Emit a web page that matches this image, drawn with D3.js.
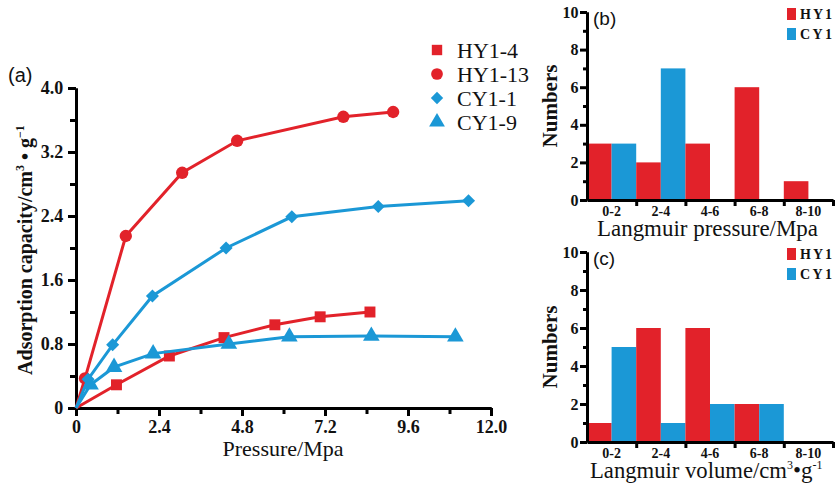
<!DOCTYPE html>
<html>
<head>
<meta charset="utf-8">
<script src="https://cdn.jsdelivr.net/npm/d3@7"></script>
<style>
  body { margin: 0; background: #fff; }
  svg { display: block; }
</style>
</head>
<body>
<div id="chart"></div>
<script>
// Data
// =================================
var hy14 = [[0, 0], [1.17, 0.29], [2.7, 0.65], [4.28, 0.88], [5.75, 1.04], [7.06, 1.14], [8.5, 1.2]];
var hy113 = [[0, 0], [0.26, 0.37], [1.44, 2.15], [3.07, 2.94], [4.66, 3.34], [7.73, 3.64], [9.17, 3.7]];
var cy11 = [[0, 0], [0.35, 0.36], [1.06, 0.79], [2.21, 1.4], [4.34, 2.0], [6.24, 2.39], [8.74, 2.52], [11.35, 2.59]];
var cy19 = [[0, 0], [0.42, 0.29], [1.1, 0.51], [2.23, 0.68], [4.42, 0.8], [6.17, 0.89], [8.54, 0.9], [10.97, 0.89]];

var seriesNames = ["HY1-4", "HY1-13", "CY1-1", "CY1-9"];
var xTicksA = [0, 2.4, 4.8, 7.2, 9.6, 12.0];
var yTicksA = [0, 0.8, 1.6, 2.4, 3.2, 4.0];

var ranges = ["0-2", "2-4", "4-6", "6-8", "8-10"];
var groups = ["HY1", "CY1"];
var pressureHY1 = [3, 2, 3, 6, 1];
var pressureCY1 = [3, 7, 0, 0, 0];
var volumeHY1 = [1, 6, 6, 2, 0];
var volumeCY1 = [5, 1, 2, 2, 0];
var countTicks = [0, 2, 4, 6, 8, 10];

var red = "#e2222a";
var blue = "#1b98d6";
var serif = "'Liberation Serif', 'Times New Roman', serif";
var sans = "'Liberation Sans', Arial, sans-serif";

var svg = d3.select("#chart").append("svg")
  .attr("width", 836)
  .attr("height", 488);

// Step 1: panel (a) isotherms
// =================================
var x = d3.scaleLinear().domain([0, 12]).range([76, 491]);
var y = d3.scaleLinear().domain([0, 4]).range([408, 88]);

function styleAxis(g) {
  g.select(".domain").attr("stroke", "#000").attr("stroke-width", 3);
  g.selectAll(".tick line").attr("stroke", "#000").attr("stroke-width", 3);
  g.selectAll(".tick text")
    .attr("font-family", serif)
    .attr("font-weight", "bold")
    .attr("fill", "#111");
}

// minor ticks first, then major ticks with labels
svg.append("g")
  .attr("transform", "translate(0,408)")
  .call(d3.axisBottom(x).tickValues(d3.range(1.2, 12, 2.4)).tickSize(6).tickFormat("").tickSizeOuter(0))
  .call(styleAxis);
svg.append("g")
  .attr("transform", "translate(76,0)")
  .call(d3.axisLeft(y).tickValues(d3.range(0.4, 4, 0.8)).tickSize(6).tickFormat("").tickSizeOuter(0))
  .call(styleAxis);

svg.append("g")
  .attr("transform", "translate(0,408)")
  .call(d3.axisBottom(x).tickValues(xTicksA).tickSize(8).tickSizeOuter(0)
    .tickFormat(d => d === 0 ? "0" : d3.format(".1f")(d)))
  .call(styleAxis)
  .call(g => g.selectAll(".tick text").attr("font-size", 18).attr("dy", "0.8em"));

svg.append("g")
  .attr("transform", "translate(76,0)")
  .call(d3.axisLeft(y).tickValues(yTicksA).tickSize(8).tickSizeOuter(0)
    .tickFormat(d => d === 0 ? "0" : d3.format(".1f")(d)))
  .call(styleAxis)
  .call(g => g.selectAll(".tick text").attr("font-size", 18).attr("dx", "-0.1em"));

var line = d3.line().x(d => x(d[0])).y(d => y(d[1]));

var series = [
  { name: seriesNames[0], data: hy14, color: red, symbol: d3.symbolSquare, size: 120, rot: 0 },
  { name: seriesNames[1], data: hy113, color: red, symbol: d3.symbolCircle, size: 120, rot: 0 },
  { name: seriesNames[2], data: cy11, color: blue, symbol: d3.symbolSquare, size: 85, rot: 45 },
  { name: seriesNames[3], data: cy19, color: blue, symbol: d3.symbolTriangle, size: 120, rot: 0 }
];

series.forEach(function(s) {
  svg.append("path")
    .datum(s.data)
    .attr("d", line)
    .attr("fill", "none")
    .attr("stroke", s.color)
    .attr("stroke-width", 3);

  svg.append("g")
    .selectAll("path")
    .data(s.data.filter(d => d[0] > 0))
    .enter()
    .append("path")
    .attr("transform", d => "translate(" + x(d[0]) + "," + y(d[1]) + ") rotate(" + s.rot + ")")
    .attr("d", d3.symbol().type(s.symbol).size(s.size))
    .attr("fill", s.color);
});

// legend
var legend = svg.append("g");
series.forEach(function(s, i) {
  var ly = 50 + i * 24;
  legend.append("path")
    .attr("transform", "translate(437," + ly + ") rotate(" + s.rot + ")")
    .attr("d", d3.symbol().type(s.symbol).size(s.size * 0.9))
    .attr("fill", s.color);
  legend.append("text")
    .attr("x", 457)
    .attr("y", ly)
    .attr("dy", "0.35em")
    .attr("font-family", serif)
    .attr("font-size", 22)
    .attr("fill", "#111")
    .text(s.name);
});

svg.append("text")
  .attr("x", 8)
  .attr("y", 82)
  .attr("font-family", sans)
  .attr("font-size", 20)
  .attr("fill", "#111")
  .text("(a)");

svg.append("text")
  .attr("x", 283)
  .attr("y", 456)
  .attr("text-anchor", "middle")
  .attr("font-family", serif)
  .attr("font-size", 22)
  .attr("fill", "#111")
  .text("Pressure/Mpa");

var yTitle = svg.append("text")
  .attr("transform", "translate(32,250) rotate(-90)")
  .attr("text-anchor", "middle")
  .attr("font-family", serif)
  .attr("font-weight", "bold")
  .attr("font-size", 20)
  .attr("fill", "#111");
yTitle.append("tspan").text("Adsorption capacity/cm");
yTitle.append("tspan").attr("dy", -8).attr("font-size", 12).text("3");
yTitle.append("tspan").attr("dy", 8).text(" \u2022 g");
yTitle.append("tspan").attr("dy", -8).attr("font-size", 12).text("\u22121");

// Step 2: histograms (b) and (c)
// =================================
function histogram(opts) {
  var bx = d3.scaleBand().domain(ranges).range([587, 833]);
  var bx1 = d3.scaleBand().domain(groups).range([0, bx.bandwidth()]);
  var by = d3.scaleLinear().domain([0, 10]).range([opts.bottom, opts.top]);
  var edges = d3.scaleLinear().domain([0, 10]).range([587, 833]);
  var color = d3.scaleOrdinal().domain(groups).range([red, blue]);

  var rows = ranges.map((r, i) => ({ range: r, HY1: opts.hy[i], CY1: opts.cy[i] }));

  svg.append("g")
    .selectAll("g")
    .data(rows)
    .enter()
    .append("g")
    .attr("transform", d => "translate(" + bx(d.range) + ",0)")
    .selectAll("rect")
    .data(d => groups.map(k => ({ key: k, value: d[k] })))
    .enter()
    .append("rect")
    .attr("x", d => bx1(d.key))
    .attr("y", d => by(d.value))
    .attr("width", bx1.bandwidth())
    .attr("height", d => by(0) - by(d.value))
    .attr("fill", d => color(d.key));

  // y axis: minor then major
  svg.append("g")
    .attr("transform", "translate(587,0)")
    .call(d3.axisLeft(by).tickValues([1, 3, 5, 7, 9]).tickSize(4).tickFormat("").tickSizeOuter(0))
    .call(styleAxis);
  svg.append("g")
    .attr("transform", "translate(587,0)")
    .call(d3.axisLeft(by).tickValues(countTicks).tickSize(7).tickSizeOuter(0))
    .call(styleAxis)
    .call(g => g.selectAll(".tick text").attr("font-size", 16).attr("dx", "0.1em"));

  // x axis: boundary ticks, then category labels
  svg.append("g")
    .attr("transform", "translate(0," + opts.bottom + ")")
    .call(d3.axisBottom(edges).tickValues([2, 4, 6, 8, 10]).tickSize(6).tickFormat("").tickSizeOuter(0))
    .call(styleAxis);
  svg.append("g")
    .attr("transform", "translate(0," + opts.bottom + ")")
    .call(d3.axisBottom(bx).tickSize(0).tickSizeOuter(0))
    .call(styleAxis)
    .call(g => g.select(".domain").remove())
    .call(g => g.selectAll(".tick text").attr("font-size", 14).attr("dy", "0.9em"));

  var yt = (opts.top + opts.bottom) / 2;
  svg.append("text")
    .attr("transform", "translate(557," + yt + ") rotate(-90)")
    .attr("text-anchor", "middle")
    .attr("font-family", serif)
    .attr("font-weight", "bold")
    .attr("font-size", 21)
    .attr("fill", "#111")
    .text("Numbers");

  svg.append("text")
    .attr("x", 593)
    .attr("y", opts.top + 13)
    .attr("font-family", sans)
    .attr("font-size", 19)
    .attr("fill", "#111")
    .text(opts.label);

  groups.forEach(function(k, i) {
    svg.append("rect")
      .attr("x", 787)
      .attr("y", opts.top - 4 + i * 20)
      .attr("width", 9)
      .attr("height", 12)
      .attr("fill", color(k));
    svg.append("text")
      .attr("x", 800)
      .attr("y", opts.top + 2 + i * 20)
      .attr("dy", "0.35em")
      .attr("font-family", serif)
      .attr("font-weight", "bold")
      .attr("font-size", 14)
      .attr("textLength", 32)
      .attr("lengthAdjust", "spacing")
      .attr("fill", "#111")
      .text(k);
  });

  var title = svg.append("text")
    .attr("x", opts.titleX)
    .attr("y", opts.bottom + opts.titleDy)
    .attr("font-family", serif)
    .attr("font-size", 23)
    .attr("fill", "#111");
  opts.title(title);
}

histogram({
  top: 12, bottom: 200, hy: pressureHY1, cy: pressureCY1, label: "(b)",
  titleX: 597, titleDy: 36,
  title: t => t.attr("textLength", 221).attr("lengthAdjust", "spacingAndGlyphs")
    .text("Langmuir pressure/Mpa")
});

histogram({
  top: 252, bottom: 442, hy: volumeHY1, cy: volumeCY1, label: "(c)",
  titleX: 590, titleDy: 36,
  title: function(t) {
    t.append("tspan").attr("textLength", 197).attr("lengthAdjust", "spacingAndGlyphs")
      .text("Langmuir volume/cm");
    t.append("tspan").attr("dy", -9).attr("font-size", 12).text("3");
    t.append("tspan").attr("dy", 9).text("\u2022g");
    t.append("tspan").attr("dy", -9).attr("font-size", 12).text("-1");
  }
});
</script>
</body>
</html>
